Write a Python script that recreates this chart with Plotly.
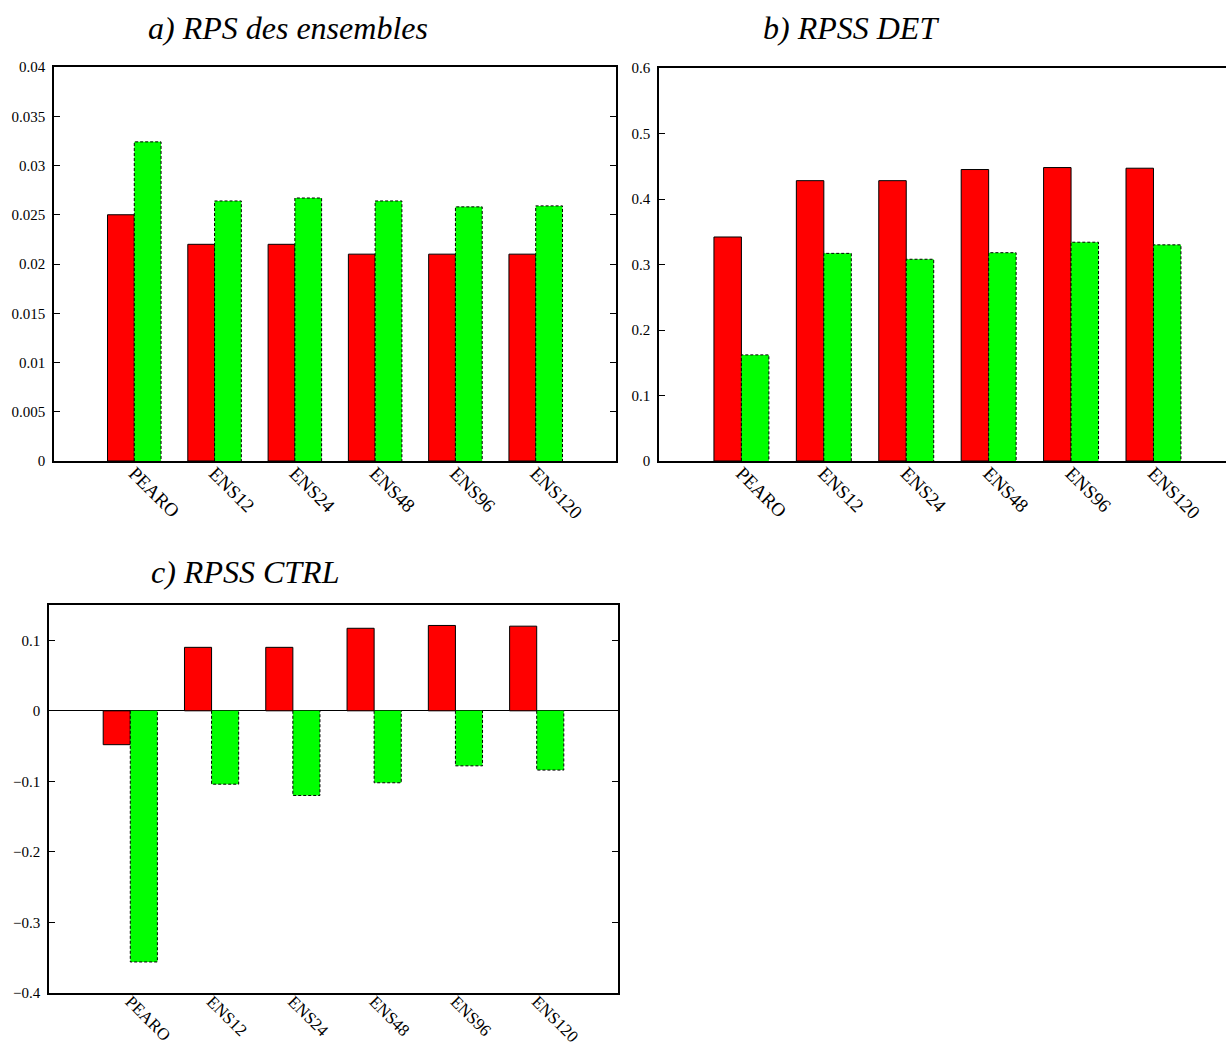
import plotly.graph_objects as go

categories = ["PEARO", "ENS12", "ENS24", "ENS48", "ENS96", "ENS120"]

# a) RPS des ensembles
rps_red = [0.0250, 0.0220, 0.0220, 0.0210, 0.0210, 0.0210]
rps_green = [0.0324, 0.0264, 0.0267, 0.0264, 0.0258, 0.0259]

# b) RPSS DET
det_red = [0.342, 0.428, 0.428, 0.445, 0.448, 0.447]
det_green = [0.162, 0.317, 0.308, 0.318, 0.334, 0.330]

# c) RPSS CTRL
ctrl_red = [-0.048, 0.090, 0.090, 0.117, 0.121, 0.120]
ctrl_green = [-0.356, -0.104, -0.120, -0.102, -0.078, -0.084]

titles = ["a) RPS des ensembles", "b) RPSS DET", "c) RPSS CTRL"]

W, H = 1226, 1048
BW = 1 / 3
RED = "#ff0000"
GREEN = "#00ff00"
FONT = "Liberation Serif"

fig = go.Figure()

panels = [
    dict(red=rps_red, green=rps_green, xa="x", ya="y"),
    dict(red=det_red, green=det_green, xa="x2", ya="y2"),
    dict(red=ctrl_red, green=ctrl_green, xa="x3", ya="y3"),
]

xs = list(range(len(categories)))
for p in panels:
    fig.add_trace(go.Bar(x=xs, y=p["red"], offset=-BW, width=BW,
                         marker=dict(color=RED, line=dict(color="black", width=1)),
                         xaxis=p["xa"], yaxis=p["ya"], showlegend=False))
    fig.add_trace(go.Bar(x=xs, y=p["green"], offset=0, width=BW,
                         marker=dict(color=GREEN, line=dict(width=0)),
                         xaxis=p["xa"], yaxis=p["ya"], showlegend=False))
    ox, oy = [], []
    for i, v in zip(xs, p["green"]):
        ox += [i, i, i + BW, i + BW, None]
        oy += [0, v, v, 0, None]
    fig.add_trace(go.Scatter(x=ox, y=oy, mode="lines",
                             line=dict(color="black", width=1, dash="3px,2px"),
                             xaxis=p["xa"], yaxis=p["ya"], showlegend=False,
                             hoverinfo="skip"))

def px_x(a, b):
    return [a / W, min(b / W, 1.0)]

def px_y(top, bot):
    return [1 - bot / H, 1 - top / H]

tickfont = dict(family=FONT, size=15, color="black")

def xaxis_style(size, standoff):
    return dict(tickmode="array", tickvals=xs, ticktext=categories, tickangle=45,
                ticks="", showgrid=False, zeroline=False, showline=True, automargin=False,
                linecolor="black", linewidth=1.5, mirror=True,
                tickfont=dict(family=FONT, size=size, color="black"),
                ticklabelstandoff=standoff)

common_y = dict(showgrid=False, ticks="inside", ticklen=6, tickcolor="black", automargin=False,
                showline=True, linecolor="black", linewidth=1.5, tickfont=tickfont,
                ticklabelstandoff=4)

fig.update_layout(
    width=W, height=H, autosize=False,
    margin=dict(l=0, r=0, t=0, b=0, autoexpand=False),
    paper_bgcolor="white", plot_bgcolor="white",
    barmode="overlay",
    xaxis=dict(domain=px_x(54, 616), range=[-1, 6], anchor="y", **xaxis_style(19, -8)),
    yaxis=dict(domain=px_y(67, 461), range=[0, 0.04], dtick=0.005, anchor="x",
               mirror="allticks", zeroline=False, **common_y),
    xaxis2=dict(domain=px_x(659, 1226), range=[-1, 5.88], anchor="y2", **xaxis_style(19, -8)),
    yaxis2=dict(domain=px_y(68, 461), range=[0, 0.6], dtick=0.1, anchor="x2",
                mirror=False, zeroline=False, **common_y),
    xaxis3=dict(domain=px_x(49, 618), range=[-1, 6], anchor="y3", **xaxis_style(17, -10)),
    yaxis3=dict(domain=px_y(605, 993), range=[-0.4, 0.15], tickvals=[-0.4, -0.3, -0.2, -0.1, 0, 0.1],
                anchor="x3", mirror="allticks", zeroline=True, zerolinecolor="black",
                zerolinewidth=1, **common_y),
)

title_pos = [(288, 28), (851, 28), (245, 572)]
for t, (cx, cy) in zip(titles, title_pos):
    fig.add_annotation(text=f"<i>{t}</i>", xref="paper", yref="paper",
                       x=cx / W, y=1 - cy / H, xanchor="center", yanchor="middle",
                       showarrow=False, font=dict(family=FONT, size=32, color="black"))

fig.write_html("out.html", config={"displayModeBar": False},
               post_script="document.body.style.margin='0';")
